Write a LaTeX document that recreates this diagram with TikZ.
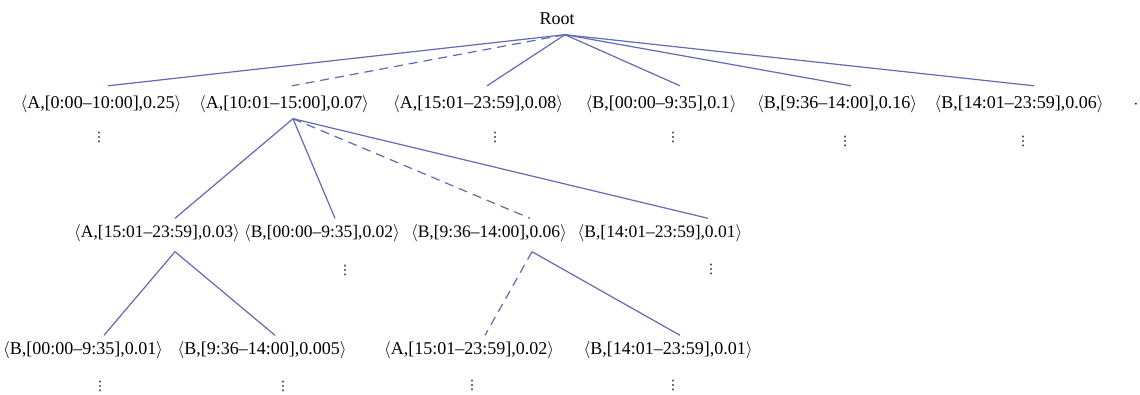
\documentclass[tikz,border=0pt]{standalone}
\usepackage{fontspec}
\setmainfont{Liberation Serif}
\newfontfamily\dotsfont{DejaVu Sans}
\begin{document}
\begin{tikzpicture}[x=1pt,y=-1pt,
  lbl/.style={font=\fontsize{18}{22}\selectfont, inner xsep=0pt, inner ysep=6pt,
              text height=13pt, text depth=4pt},
  lblsmall/.style={lbl, font=\fontsize{17.5}{21}\selectfont},
  more/.style={font=\dotsfont\fontsize{13}{15}\selectfont, inner sep=0pt},
  edge/.style={draw={rgb,255:red,98;green,106;blue,178}, line width=1.2pt},
  dashedge/.style={edge, dash pattern=on 9pt off 6pt}]
\useasboundingbox (0,0) rectangle (1140,394);
\newcommand{\tup}[1]{$\langle$#1$\rangle$}

% root
\node[lbl] (root) at (557,20) {Root};

% first level
\node[lbl] (a1) at (101,104)  {\tup{A,[0:00--10:00],0.25}};
\node[lbl] (a2) at (284,104)  {\tup{A,[10:01--15:00],0.07}};
\node[lbl] (a3) at (478,104)  {\tup{A,[15:01--23:59],0.08}};
\node[lbl] (b1) at (661,104)  {\tup{B,[00:00--9:35],0.1}};
\node[lbl] (b2) at (837,104)  {\tup{B,[9:36--14:00],0.16}};
\node[lbl] (b3) at (1019,104) {\tup{B,[14:01--23:59],0.06}};
\node[lbl] (etc) at (1136,104) {$\cdot$};

% second level
\node[lblsmall] (c1) at (157,233) {\tup{A,[15:01--23:59],0.03}};
\node[lblsmall] (c2) at (322,233) {\tup{B,[00:00--9:35],0.02}};
\node[lblsmall] (c3) at (489,233) {\tup{B,[9:36--14:00],0.06}};
\node[lblsmall] (c4) at (660,233) {\tup{B,[14:01--23:59],0.01}};

% third level
\node[lbl] (d1) at (83,350)  {\tup{B,[00:00--9:35],0.01}};
\node[lbl] (d2) at (262,350) {\tup{B,[9:36--14:00],0.005}};
\node[lbl] (d3) at (469,350) {\tup{A,[15:01--23:59],0.02}};
\node[lbl] (d4) at (668,350) {\tup{B,[14:01--23:59],0.01}};

% continuation marks
\node[more] (va1) at (99,137)  {⋮};
\node[more] (va3) at (495,137) {⋮};
\node[more] (vb1) at (673,137) {⋮};
\node[more] (vb2) at (845,141) {⋮};
\node[more] (vb3) at (1023,141) {⋮};
\node[more] (vc2) at (345,270) {⋮};
\node[more] (vc4) at (711,269) {⋮};
\node[more] (vd1) at (100,386) {⋮};
\node[more] (vd2) at (283,386) {⋮};
\node[more] (vd3) at (472,385) {⋮};
\node[more] (vd4) at (673,385) {⋮};

% edges from the root
\draw[edge]     ([xshift=8pt]root.south) -- ([xshift=7pt,yshift=3.5pt]a1.north);
\draw[dashedge] ([xshift=8pt]root.south) -- ([xshift=8pt,yshift=3.5pt]a2.north);
\draw[edge]     ([xshift=8pt]root.south) -- ([xshift=9pt,yshift=3.5pt]a3.north);
\draw[edge]     ([xshift=8pt]root.south) -- ([xshift=19pt,yshift=3.5pt]b1.north);
\draw[edge]     ([xshift=8pt]root.south) -- ([xshift=14pt,yshift=3.5pt]b2.north);
\draw[edge]     ([xshift=8pt]root.south) -- ([xshift=15pt,yshift=3.5pt]b3.north);

% edges below the second first-level item
\draw[edge]     ([xshift=9pt]a2.south) -- ([xshift=18pt]c1.north);
\draw[edge]     ([xshift=9pt]a2.south) -- ([xshift=13pt]c2.north);
\draw[dashedge] ([xshift=9pt]a2.south) -- ([xshift=41pt]c3.north);
\draw[edge]     ([xshift=9pt]a2.south) -- ([xshift=48pt]c4.north);

% third level edges
\draw[edge]     ([xshift=18pt,yshift=-4pt]c1.south) -- ([xshift=21pt]d1.north);
\draw[edge]     ([xshift=18pt,yshift=-4pt]c1.south) -- ([xshift=13pt]d2.north);
\draw[dashedge] ([xshift=43pt,yshift=-4pt]c3.south) -- ([xshift=16pt]d3.north);
\draw[edge]     ([xshift=43pt,yshift=-4pt]c3.south) -- ([xshift=12pt]d4.north);
\end{tikzpicture}
\end{document}
